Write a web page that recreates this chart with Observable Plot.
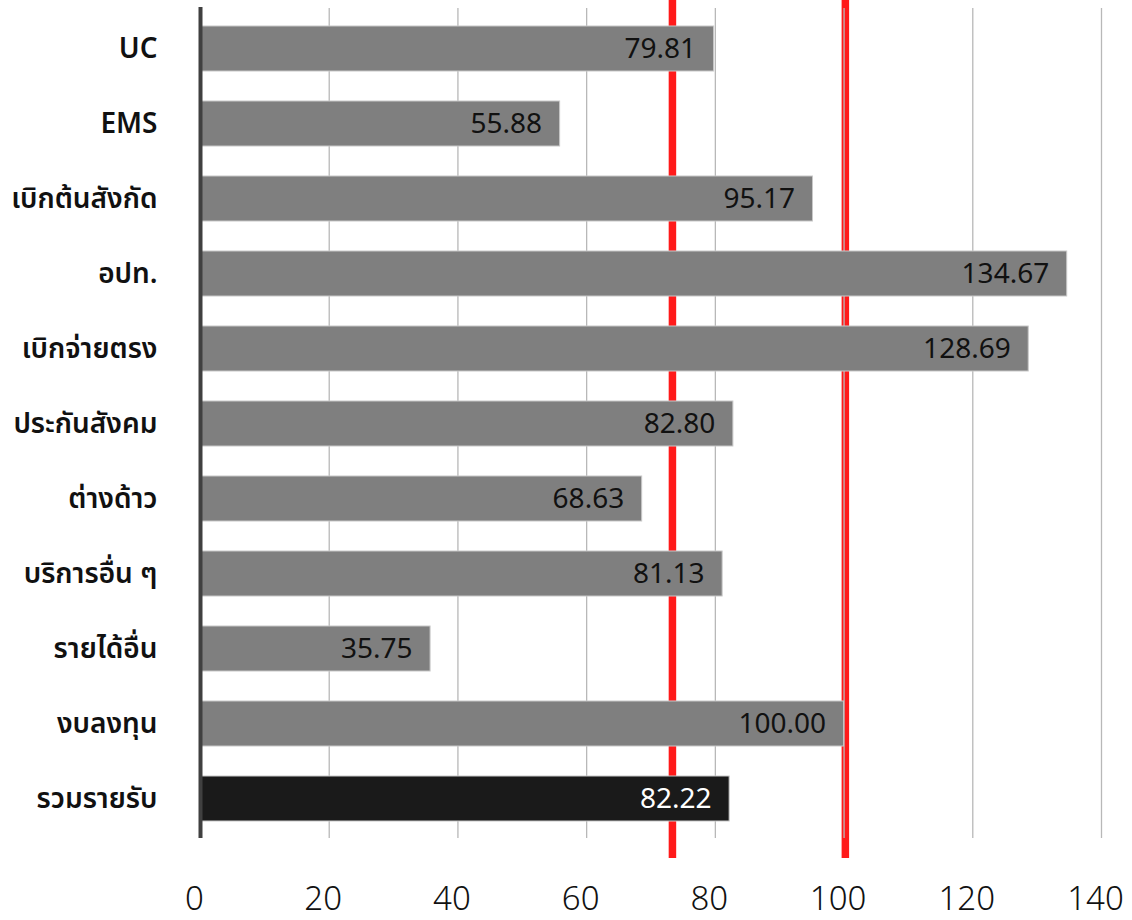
<!DOCTYPE html>
<html>
<head>
<meta charset="utf-8">
<script src="https://cdn.jsdelivr.net/npm/d3@7"></script>
<script src="https://cdn.jsdelivr.net/npm/@observablehq/plot@0.6"></script>
<style>
  html, body { margin: 0; padding: 0; background: #fff; }
  #chart { width: 1132px; height: 920px; }
</style>
</head>
<body>
<div id="chart"></div>
<script>
const categories = ["UC", "EMS", "เบิกต้นสังกัด", "อปท.", "เบิกจ่ายตรง", "ประกันสังคม", "ต่างด้าว", "บริการอื่น ๆ", "รายได้อื่น", "งบลงทุน", "รวมรายรับ"];
const values = [79.81, 55.88, 95.17, 134.67, 128.69, 82.80, 68.63, 81.13, 35.75, 100.00, 82.22];
const xTicks = [0, 20, 40, 60, 80, 100, 120, 140];
const targetLines = [73.33, 100.2];
const totalCategory = "รวมรายรับ";

const data = categories.map((c, i) => ({category: c, value: values[i], total: c === totalCategory}));

const thaiFont = "'Noto Sans Thai', 'Leelawadee UI', Tahoma, 'Noto Sans', 'DejaVu Sans', sans-serif";

const chart = Plot.plot({
  width: 1132,
  height: 920,
  marginLeft: 200,
  marginRight: 31,
  marginTop: 8,
  marginBottom: 82,
  style: {fontFamily: thaiFont, background: "#fff", overflow: "visible"},
  x: {domain: [0, 140], ticks: xTicks},
  y: {domain: categories, paddingInner: 0.4, paddingOuter: 0.2},
  marks: [
    Plot.ruleX(targetLines, {stroke: "#ff1a1a", strokeWidth: 7.5, insetTop: -8, insetBottom: -20}),
    Plot.ruleX(xTicks.filter(d => d > 0), {stroke: "#b8b8b8", strokeWidth: 1.3}),
    Plot.barX(data, {
      y: "category",
      x1: 0,
      x2: "value",
      fill: d => d.total ? "#1a1a1a" : "#7f7f7f",
      stroke: "#c8c8c8",
      strokeWidth: 1
    }),
    Plot.ruleX([0], {stroke: "#404040", strokeWidth: 4, insetTop: -1}),
    Plot.text(data, {
      y: "category",
      x: "value",
      text: d => d.value.toFixed(2),
      textAnchor: "end",
      dx: -18,
      dy: 0,
      fontSize: 28,
      fill: d => d.total ? "#ffffff" : "#111111",
      fontFamily: thaiFont
    }),
    Plot.axisY({
      tickSize: 0,
      tickPadding: 43,
      fontSize: 28,
      fontWeight: 600,
      fill: "#111",
      label: null
    }),
    Plot.axisX({
      ticks: xTicks,
      tickSize: 0,
      tickPadding: 48,
      fontSize: 33,
      fontWeight: 300,
      fill: "#111",
      dx: -6,
      label: null,
      tickFormat: d => String(d),
      fontFamily: "'Noto Sans', Roboto, sans-serif"
    })
  ]
});

document.getElementById("chart").appendChild(chart);
</script>
</body>
</html>
